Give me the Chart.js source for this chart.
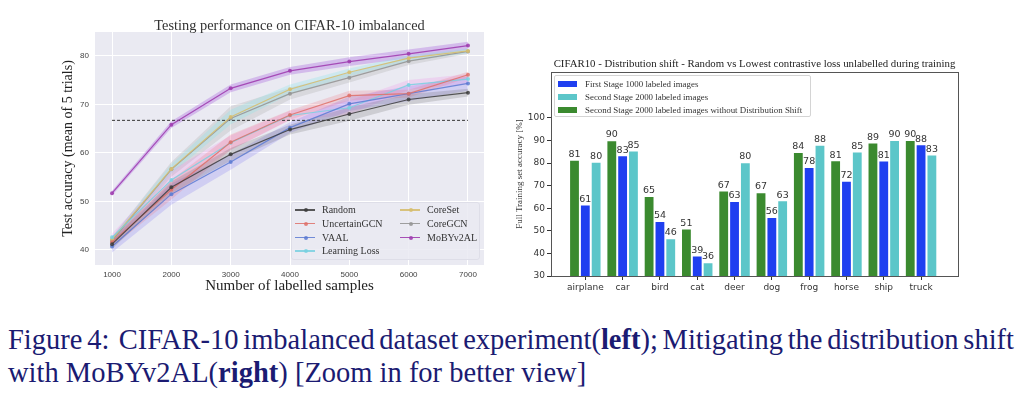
<!DOCTYPE html>
<html>
<head>
<meta charset="utf-8">
<script src="https://cdn.jsdelivr.net/npm/chart.js@4.4.1/dist/chart.umd.min.js"></script>
<style>
  html, body { margin: 0; padding: 0; background: #fff; }
  body { position: relative; width: 1024px; height: 394px; overflow: hidden; }
  #leftWrap { position: absolute; left: 0; top: 0; width: 512px; height: 300px; }
  #rightWrap { position: absolute; left: 512px; top: 40px; width: 512px; height: 260px; }
  canvas { display: block; }
  .ttl { position: absolute; text-align: center; white-space: nowrap; font-family: "Liberation Serif", serif; }
  #ttlLeft { left: 95px; width: 389px; top: 16px; font-size: 14.4px; line-height: 18px; color: #333; }
  #ttlRight { left: 551px; width: 407px; top: 56px; font-size: 10.8px; line-height: 14px; color: #222; }
  .leg { position: absolute; box-sizing: border-box; }
  #legLeft { left: 291px; top: 202px; width: 189px; height: 58px; background: rgba(234,234,242,0.85);
    border: 1px solid #dedee8; border-radius: 3px; font: 10px "Liberation Serif", serif; color: #333; }
  #legRight { left: 554px; top: 75px; width: 257px; height: 42px; background: #fff;
    border: 1px solid #d4d4d4; border-radius: 2px; font: 8.9px "Liberation Serif", serif; color: #333; }
  .item { position: absolute; height: 12px; line-height: 12px; white-space: nowrap; }
  .swatchLine { position: absolute; top: 5px; width: 20px; height: 1.5px; }
  .swatchDot { position: absolute; top: 4px; left: 8.5px; width: 4px; height: 4px; border-radius: 50%; }
  .patch { position: absolute; top: 3px; width: 19px; height: 6px; }
  .cap { position: absolute; font: 28.5px/30px "Liberation Serif", serif; color: #1b1b72; white-space: nowrap; }
  #cap1 { left: 8px; top: 325px; width: 1006px; word-spacing: -3px; text-align: justify; text-align-last: justify; }
  #cap2 { left: 8px; top: 358px; }
</style>
</head>
<body>
<div id="leftWrap"><canvas id="leftChart" width="512" height="300"></canvas></div>
<div id="rightWrap"><canvas id="rightChart" width="512" height="260"></canvas></div>
<div id="ttlLeft" class="ttl">Testing performance on CIFAR-10 imbalanced</div>
<div id="ttlRight" class="ttl">CIFAR10 - Distribution shift - Random vs Lowest contrastive loss unlabelled during training</div>
<div id="legLeft" class="leg"></div>
<div id="legRight" class="leg"></div>
<div id="cap1" class="cap">Figure 4:&nbsp; CIFAR-10 imbalanced dataset experiment(<b>left</b>); Mitigating the distribution shift</div>
<div id="cap2" class="cap">with MoBYv2AL(<b>right</b>) [Zoom in for better view]</div>

<script>
/* ===== LEFT: test accuracy vs labelled samples ===== */
const samples = [1000, 2000, 3000, 4000, 5000, 6000, 7000];
const leftYTicks = [40, 50, 60, 70, 80];
const baselineAcc = 66.7;

const seriesNames = ["Random", "UncertainGCN", "VAAL", "Learning Loss", "CoreSet", "CoreGCN", "MoBYv2AL"];

const accRandom    = [41.2, 52.9, 59.7, 64.8, 68.0, 71.0, 72.4];
const accUncGCN    = [41.6, 52.4, 62.2, 67.8, 71.8, 72.2, 76.1];
const accVAAL      = [40.7, 51.5, 58.1, 65.2, 70.1, 72.2, 74.3];
const accLearnLoss = [42.6, 54.4, 62.1, 67.7, 69.3, 74.0, 75.2];
const accCoreSet   = [42.2, 56.7, 67.4, 73.1, 76.6, 79.5, 81.0];
const accCoreGCN   = [41.9, 56.6, 67.1, 72.2, 75.5, 78.9, 80.9];
const accMoBY      = [51.7, 65.8, 73.3, 76.9, 78.8, 80.4, 82.1];

// half-width of the shaded bands
const bandRandom    = [1.0, 1.2, 1.3, 1.0, 1.4, 1.1, 0.8];
const bandUncGCN    = [1.0, 2.0, 1.6, 1.0, 1.0, 0.8, 0.6];
const bandVAAL      = [1.2, 2.2, 1.6, 1.1, 1.5, 1.5, 1.5];
const bandLearnLoss = [0.8, 2.0, 1.5, 1.0, 1.5, 1.0, 1.0];
const bandCoreSet   = [0.5, 1.0, 1.5, 1.0, 0.8, 0.6, 0.5];
const bandCoreGCN   = [0.8, 1.5, 2.5, 1.2, 1.0, 0.8, 0.5];
const bandMoBY      = [0.5, 0.7, 0.8, 0.8, 0.9, 0.9, 0.8];

const seriesAcc  = [accRandom, accUncGCN, accVAAL, accLearnLoss, accCoreSet, accCoreGCN, accMoBY];
const seriesBand = [bandRandom, bandUncGCN, bandVAAL, bandLearnLoss, bandCoreSet, bandCoreGCN, bandMoBY];
const lineColors = ["rgba(60,60,60,0.85)", "rgba(222,112,104,0.85)", "rgba(92,122,210,0.85)",
  "rgba(120,208,224,0.85)", "rgba(214,190,112,0.9)", "rgba(150,150,150,0.9)", "rgba(160,62,176,0.9)"];
const bandColors = ["rgba(90,90,90,0.20)", "rgba(240,110,120,0.22)", "rgba(120,110,240,0.22)",
  "rgba(240,120,230,0.20)", "rgba(140,228,232,0.30)", "rgba(170,170,170,0.28)", "rgba(160,80,220,0.30)"];

/* ===== RIGHT: per-class accuracy bars ===== */
const classes = ["airplane", "car", "bird", "cat", "deer", "dog", "frog", "horse", "ship", "truck"];
const accNoShift   = [81.5, 90.1, 65.4, 51.0, 67.9, 67.1, 84.9, 81.2, 89.1, 90.2];
const accStage1    = [61.6, 83.4, 54.3, 39.1, 63.2, 56.1, 78.2, 72.2, 81.1, 88.3];
const accStage2    = [80.6, 85.6, 46.7, 36.1, 80.4, 63.5, 88.1, 85.1, 90.2, 83.8];
const rightYTicks = [30, 40, 50, 60, 70, 80, 90, 100];

const legendRight = [
  { label: "First Stage 1000 labeled images", color: "#1f3ff0" },
  { label: "Second Stage 2000 labeled images", color: "#5cc6c9" },
  { label: "Second Stage 2000 labeled images without Distribution Shift", color: "#3b8a2f" }
];

/* ----- left chart datasets: lines first (drawn on top), bands after ----- */
const pts = arr => arr.map((v, i) => ({ x: samples[i], y: v }));
const leftDatasets = [];
seriesAcc.forEach((acc, k) => {
  leftDatasets.push({
    data: pts(acc), borderColor: lineColors[k], backgroundColor: lineColors[k],
    borderWidth: 1.2, pointRadius: 2, pointBorderWidth: 0, fill: false
  });
});
leftDatasets.push({
  data: [{ x: samples[0], y: baselineAcc }, { x: samples[samples.length - 1], y: baselineAcc }],
  borderColor: "#333", borderWidth: 1, borderDash: [3, 2], pointRadius: 0, fill: false
});
seriesAcc.forEach((acc, k) => {
  const upperIdx = leftDatasets.length;
  leftDatasets.push({
    data: pts(acc.map((v, i) => v + seriesBand[k][i])), borderWidth: 0, pointRadius: 0, fill: false
  });
  leftDatasets.push({
    data: pts(acc.map((v, i) => v - seriesBand[k][i])), borderWidth: 0, pointRadius: 0,
    fill: { target: upperIdx }, backgroundColor: bandColors[k]
  });
});

const plotBg = {
  id: "plotBg",
  beforeDraw(chart) {
    const { ctx, chartArea: a } = chart;
    ctx.save();
    ctx.fillStyle = "#eaeaf2";
    ctx.fillRect(a.left, a.top, a.right - a.left, a.bottom - a.top);
    ctx.restore();
  }
};

new Chart(document.getElementById("leftChart"), {
  type: "line",
  data: { datasets: leftDatasets },
  plugins: [plotBg],
  options: {
    responsive: false, animation: false,
    layout: { padding: { left: 61, right: 28, top: 32, bottom: 6 } },
    plugins: { legend: { display: false }, tooltip: { enabled: false } },
    scales: {
      x: {
        type: "linear", min: 713, max: 7270,
        afterBuildTicks: s => { s.ticks = samples.map(v => ({ value: v })); },
        afterFit: s => { s.height = 29; },
        grid: { color: "#fff", lineWidth: 1, drawTicks: false },
        border: { display: false },
        ticks: { padding: 5, color: "#444", font: { family: "Liberation Sans", size: 8 },
          callback: v => String(v) },
        title: { display: true, text: "Number of labelled samples", color: "#222",
          font: { family: "Liberation Serif", size: 15, lineHeight: 1 }, padding: 0 }
      },
      y: {
        min: 36.9, max: 84.9,
        afterBuildTicks: s => { s.ticks = leftYTicks.map(v => ({ value: v })); },
        afterFit: s => { s.width = 34; },
        grid: { color: "#fff", lineWidth: 1, drawTicks: false },
        border: { display: false },
        ticks: { padding: 6, color: "#444", font: { family: "Liberation Sans", size: 8 } },
        title: { display: true, text: "Test accuracy (mean of 5 trials)", color: "#222",
          font: { family: "Liberation Serif", size: 14, lineHeight: 1 }, padding: 0 }
      }
    }
  }
});

/* ----- right chart ----- */
const idxPts = arr => arr.map((v, i) => ({ x: i, y: v }));

const frame = {
  id: "frame",
  afterDraw(chart) {
    const { ctx, chartArea: a } = chart;
    ctx.save();
    ctx.strokeStyle = "#555";
    ctx.lineWidth = 1;
    ctx.strokeRect(Math.round(a.left) + 0.5, Math.round(a.top) + 0.5,
      Math.round(a.right - a.left), Math.round(a.bottom - a.top));
    ctx.restore();
  }
};

const barLabels = {
  id: "barLabels",
  afterDatasetsDraw(chart) {
    const { ctx } = chart;
    ctx.save();
    ctx.font = '9.5px "DejaVu Sans"';
    ctx.fillStyle = "#333";
    ctx.textAlign = "center";
    ctx.textBaseline = "bottom";
    chart.data.datasets.forEach((ds, di) => {
      chart.getDatasetMeta(di).data.forEach((bar, i) => {
        ctx.fillText(String(Math.floor(ds.data[i].y)), bar.x, bar.y - 0.5);
      });
    });
    ctx.restore();
  }
};

const barStyle = { borderColor: "#fff", borderWidth: 1, borderSkipped: false,
  categoryPercentage: 0.87, barPercentage: 1.0 };

new Chart(document.getElementById("rightChart"), {
  type: "bar",
  data: {
    datasets: [
      { data: idxPts(accNoShift), backgroundColor: legendRight[2].color, ...barStyle },
      { data: idxPts(accStage1), backgroundColor: legendRight[0].color, ...barStyle },
      { data: idxPts(accStage2), backgroundColor: legendRight[1].color, ...barStyle }
    ]
  },
  plugins: [frame, barLabels],
  options: {
    responsive: false, animation: false,
    layout: { padding: { left: 3.5, right: 66, top: 32, bottom: 4 } },
    plugins: { legend: { display: false }, tooltip: { enabled: false } },
    scales: {
      x: {
        type: "linear", min: -0.92, max: 9.99, offset: false,
        afterBuildTicks: s => { s.ticks = classes.map((c, i) => ({ value: i })); },
        afterFit: s => { s.height = 20; },
        grid: { drawOnChartArea: false, drawTicks: true, tickLength: 4, color: "#333", offset: false },
        border: { display: false },
        ticks: { padding: 2, color: "#333", font: { family: "DejaVu Sans", size: 9 },
          callback: v => classes[v] }
      },
      y: {
        min: 30, max: 120.3,
        afterBuildTicks: s => { s.ticks = rightYTicks.map(v => ({ value: v })); },
        afterFit: s => { s.width = 35.5; },
        grid: { drawOnChartArea: false, drawTicks: true, tickLength: 4, color: "#333" },
        border: { display: false },
        ticks: { padding: 2, color: "#333", font: { family: "DejaVu Sans", size: 9 } },
        title: { display: true, text: "Full Training set accuracy [%]", color: "#333",
          font: { family: "Liberation Serif", size: 9, lineHeight: 1 }, padding: 0 }
      }
    }
  }
});

/* ----- HTML legends ----- */
const legLeft = document.getElementById("legLeft");
const legRows = [8, 21.7, 35.7, 49.3];
seriesNames.forEach((name, k) => {
  const col = k < 4 ? 0 : 1;
  const row = k < 4 ? k : k - 4;
  const it = document.createElement("div");
  it.className = "item";
  it.style.left = (col ? 108 : 3) + "px";
  it.style.top = (legRows[row] - 6 - 1) + "px";
  it.innerHTML = `<span class="swatchLine" style="left:0;background:${lineColors[k]}"></span>` +
    `<span class="swatchDot" style="background:${lineColors[k]}"></span>` +
    `<span style="position:absolute;left:27px">${name}</span>`;
  legLeft.appendChild(it);
});

const legRight = document.getElementById("legRight");
const legRRows = [9.3, 21.7, 34.7];
legendRight.forEach((e, k) => {
  const it = document.createElement("div");
  it.className = "item";
  it.style.left = "3px";
  it.style.top = (legRRows[k] - 6 - 1) + "px";
  it.innerHTML = `<span class="patch" style="left:0;background:${e.color}"></span>` +
    `<span style="position:absolute;left:27px">${e.label}</span>`;
  legRight.appendChild(it);
});
</script>
</body>
</html>
